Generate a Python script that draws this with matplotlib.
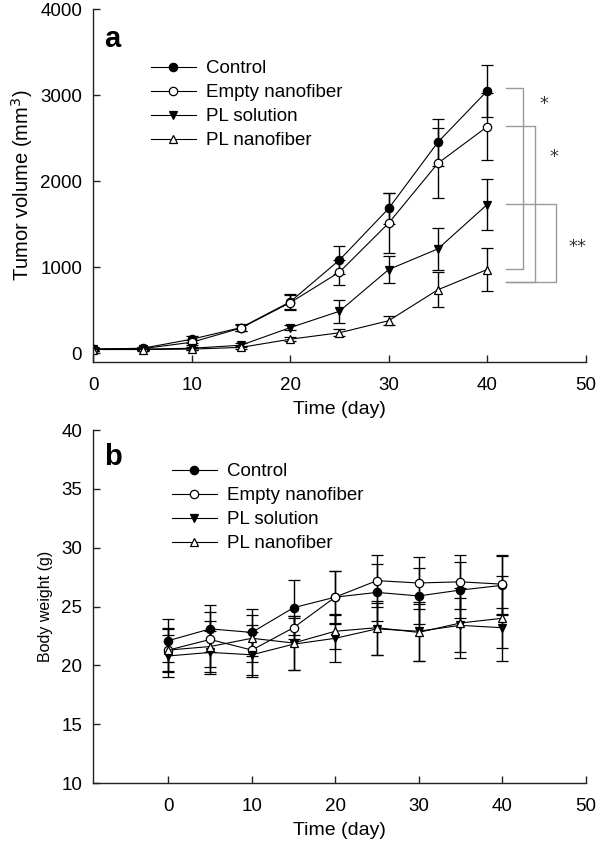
import matplotlib
matplotlib.use("Agg")
import matplotlib.pyplot as plt
from matplotlib.lines import Line2D

plt.rcParams['font.family'] = ['Liberation Sans', 'DejaVu Sans']

# ---- data ----
days = [0, 5, 10, 15, 20, 25, 30, 35, 40]
groups = ["Control", "Empty nanofiber", "PL solution", "PL nanofiber"]

tumor_control = [50, 60, 165, 300, 600, 1085, 1685, 2455, 3050]
tumor_control_err = [20, 20, 40, 40, 85, 165, 175, 275, 300]
tumor_empty = [50, 55, 130, 295, 590, 945, 1515, 2210, 2635]
tumor_empty_err = [20, 20, 30, 40, 85, 145, 350, 405, 390]
tumor_pl_sol = [50, 50, 60, 95, 300, 490, 975, 1215, 1730]
tumor_pl_sol_err = [15, 15, 20, 25, 30, 135, 160, 240, 300]
tumor_pl_nano = [45, 45, 50, 70, 165, 240, 380, 740, 975]
tumor_pl_nano_err = [15, 15, 15, 20, 25, 40, 50, 205, 255]

bw_control = [22.1, 23.1, 22.8, 24.9, 25.8, 26.2, 25.9, 26.4, 26.8]
bw_control_err = [1.85, 2.0, 2.0, 2.35, 2.2, 2.4, 2.35, 2.4, 2.5]
bw_empty = [21.3, 22.2, 21.3, 23.2, 25.8, 27.2, 27.0, 27.1, 26.9]
bw_empty_err = [1.8, 2.3, 2.1, 1.0, 2.25, 2.2, 2.2, 2.3, 2.5]
bw_pl_sol = [20.8, 21.1, 20.9, 21.8, 22.3, 23.1, 22.9, 23.4, 23.2]
bw_pl_sol_err = [1.8, 1.8, 1.9, 2.2, 2.0, 2.2, 2.5, 2.3, 1.7]
bw_pl_nano = [21.3, 21.6, 22.3, 21.9, 22.9, 23.2, 22.8, 23.6, 24.0]
bw_pl_nano_err = [1.9, 2.2, 2.0, 2.3, 1.5, 2.3, 2.4, 3.0, 3.6]

# significance brackets: (y_top, y_bottom, x_right, label, label_x, label_y)
brackets = [
    (3080, 985, 43.6, "*", 45.8, 2900),
    (2645, 825, 44.9, "*", 46.8, 2280),
    (1742, 825, 47.0, "**", 49.2, 1235),
]
bracket_x_left = 41.9

styles = [
    dict(marker="o", mfc="black"),
    dict(marker="o", mfc="white"),
    dict(marker="v", mfc="black"),
    dict(marker="^", mfc="white"),
]

FS = 13.5


def style_axes(ax):
    for s in ("top", "right"):
        ax.spines[s].set_visible(False)
    for s in ("left", "bottom"):
        ax.spines[s].set_linewidth(1.0)
        ax.spines[s].set_color("#222222")
    ax.tick_params(direction="in", length=5, width=1.0, labelsize=FS,
                   color="#222222")
    ax.tick_params(axis="x", pad=11)
    ax.tick_params(axis="y", pad=8)


def draw_series(ax, series):
    for (y, err), st in zip(series, styles):
        ax.errorbar(days, y, yerr=err, color="black", lw=0.8,
                    elinewidth=1.0, capsize=4.5, capthick=1.0,
                    marker=st["marker"], mfc=st["mfc"], mec="black",
                    mew=0.9, ms=6)


def add_legend(ax, x, y):
    handles = [Line2D([], [], color="black", lw=0.8, marker=st["marker"],
                      mfc=st["mfc"], mec="black", mew=0.9, ms=6)
               for st in styles]
    ax.legend(handles, groups, loc="upper left", bbox_to_anchor=(x, y),
              bbox_transform=ax.figure.transFigure, frameon=False,
              fontsize=FS, handlelength=2.4, handletextpad=0.55,
              labelspacing=0.37, borderpad=0, borderaxespad=0)


fig = plt.figure(figsize=(5.96, 8.49), dpi=100)

# ---- panel a ----
ax1 = fig.add_axes([0.1566, 0.5736, 0.8258, 0.4154])
draw_series(ax1, [(tumor_control, tumor_control_err),
                  (tumor_empty, tumor_empty_err),
                  (tumor_pl_sol, tumor_pl_sol_err),
                  (tumor_pl_nano, tumor_pl_nano_err)])
for y_top, y_bot, x_right, lab, lx, ly in brackets:
    ax1.plot([bracket_x_left, x_right, x_right, bracket_x_left],
             [y_top, y_top, y_bot, y_bot], color="#9a9a9a", lw=1.0,
             clip_on=False)
    ax1.text(lx, ly, lab, ha="center", va="center", fontsize=13,
             color="#333333", family="DejaVu Sans")
ax1.set_xlim(0, 50)
ax1.set_ylim(-100, 4000)
ax1.set_xticks([0, 10, 20, 30, 40, 50])
ax1.set_yticks([0, 1000, 2000, 3000, 4000])
style_axes(ax1)
ax1.set_xlabel("Time (day)", fontsize=14, labelpad=5)
ax1.set_ylabel("Tumor volume (mm$^3$)", fontsize=14.5, labelpad=4)
ax1.text(0.022, 0.894, "a", transform=ax1.transAxes, fontsize=21,
         fontweight="bold", va="baseline")
add_legend(ax1, 150.5 / 596, 1 - 60 / 849)

# ---- panel b ----
ax2 = fig.add_axes([0.1566, 0.0777, 0.8258, 0.4158])
draw_series(ax2, [(bw_control, bw_control_err),
                  (bw_empty, bw_empty_err),
                  (bw_pl_sol, bw_pl_sol_err),
                  (bw_pl_nano, bw_pl_nano_err)])
ax2.set_xlim(-9, 50)
ax2.set_ylim(10, 40)
ax2.set_xticks([0, 10, 20, 30, 40, 50])
ax2.set_yticks([10, 15, 20, 25, 30, 35, 40])
style_axes(ax2)
ax2.set_xlabel("Time (day)", fontsize=14, labelpad=5)
ax2.set_ylabel("Body weight (g)", fontsize=11.5, labelpad=6)
ax2.text(0.022, 0.90, "b", transform=ax2.transAxes, fontsize=21,
         fontweight="bold", va="baseline")
add_legend(ax2, 171.5 / 596, 1 - 463 / 849)

fig.savefig("out.png", dpi=100)
